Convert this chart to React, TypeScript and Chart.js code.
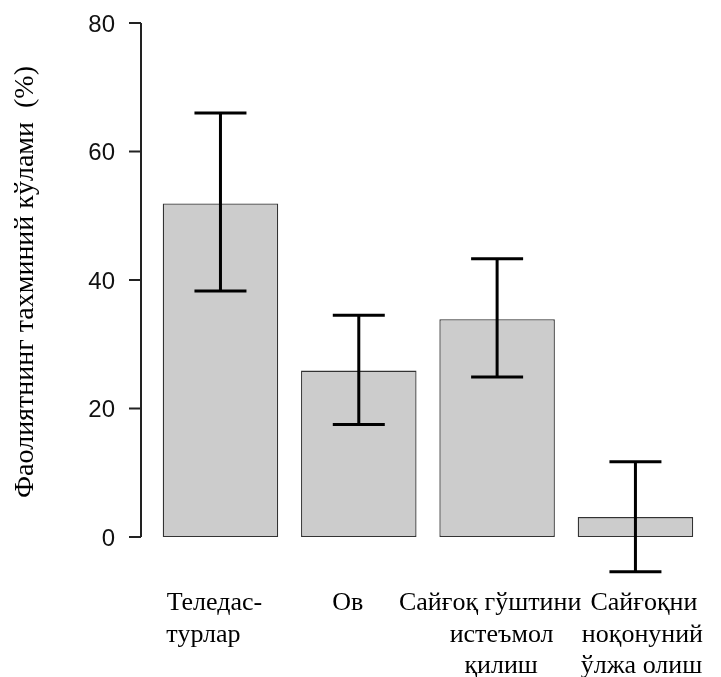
import { useEffect, useRef } from "react";
import { Chart, registerables } from "chart.js";

Chart.register(...registerables);

// ---- data ----
const categories: string[][] = [
  ["Теледас-", "турлар"],
  ["Ов"],
  ["Сайғоқ гўштини", "истеъмол", "қилиш"],
  ["Сайғоқни", "ноқонуний", "ўлжа олиш"],
];
const means = [51.9, 25.9, 33.9, 3.1];
const upper = [66.0, 34.5, 43.3, 11.7];
const lower = [38.3, 17.5, 24.9, -5.4];
const yTicks = [0, 20, 40, 60, 80];
const yTitle = "Фаолиятнинг тахминий кўлами  (%)";

// ---- layout (not data) ----
const labelLineDx: number[][] = [
  [-6, -17],
  [-11],
  [-7, 4.5, 4],
  [8.5, 7, 6],
];

const overlay = {
  id: "overlay",
  afterDatasetsDraw(chart: any) {
    const ctx = chart.ctx as CanvasRenderingContext2D;
    const y = chart.scales.y;
    const x = chart.scales.x;
    ctx.save();
    // error bars
    ctx.strokeStyle = "#000";
    ctx.lineWidth = 3;
    ctx.lineCap = "butt";
    means.forEach((_, i) => {
      const cx = x.getPixelForValue(i);
      const yu = y.getPixelForValue(upper[i]);
      const yl = y.getPixelForValue(lower[i]);
      ctx.beginPath();
      ctx.moveTo(cx, yu);
      ctx.lineTo(cx, yl);
      ctx.moveTo(cx - 26, yu);
      ctx.lineTo(cx + 26, yu);
      ctx.moveTo(cx - 26, yl);
      ctx.lineTo(cx + 26, yl);
      ctx.stroke();
    });
    // y axis
    const ax = 141;
    ctx.strokeStyle = "#222";
    ctx.lineWidth = 2;
    ctx.beginPath();
    ctx.moveTo(ax, y.getPixelForValue(yTicks[0]));
    ctx.lineTo(ax, y.getPixelForValue(yTicks[yTicks.length - 1]));
    yTicks.forEach((t) => {
      const py = y.getPixelForValue(t);
      ctx.moveTo(ax, py);
      ctx.lineTo(ax - 12, py);
    });
    ctx.stroke();
    ctx.fillStyle = "#111";
    ctx.font = "24px 'Liberation Sans', Arial, sans-serif";
    ctx.textAlign = "right";
    ctx.textBaseline = "middle";
    yTicks.forEach((t) => {
      ctx.fillText(String(t), 115, y.getPixelForValue(t) + 2);
    });
    // category labels
    ctx.fillStyle = "#000";
    ctx.font = "26px 'Liberation Serif', 'Times New Roman', serif";
    ctx.textAlign = "center";
    ctx.textBaseline = "alphabetic";
    categories.forEach((lines, i) => {
      const cx = x.getPixelForValue(i);
      lines.forEach((ln, j) => {
        ctx.fillText(ln, cx + labelLineDx[i][j], 610 + j * 31.5);
      });
    });
    // y title
    ctx.font = "28px 'Liberation Serif', 'Times New Roman', serif";
    ctx.translate(33, 282);
    ctx.rotate(-Math.PI / 2);
    ctx.textAlign = "center";
    ctx.textBaseline = "alphabetic";
    ctx.fillText(yTitle, 0, 0);
    ctx.restore();
  },
};

export default function App() {
  const ref = useRef<HTMLCanvasElement>(null);
  useEffect(() => {
    if (!ref.current) return;
    const chart = new Chart(ref.current, {
      type: "bar",
      data: {
        labels: categories.map((c) => c.join(" ")),
        datasets: [
          {
            data: means,
            backgroundColor: "rgb(204,204,204)",
            borderColor: "#333",
            borderWidth: 1.3,
            borderSkipped: false,
            categoryPercentage: 1,
            barPercentage: 0.835,
          },
        ],
      },
      options: {
        responsive: false,
        animation: false,
        events: [],
        layout: { padding: { left: 151.3, right: 16.4, top: 10.15, bottom: 62.9 } },
        plugins: { legend: { display: false }, tooltip: { enabled: false } },
        scales: {
          x: { type: "category", display: false, offset: true },
          y: { type: "linear", display: false, min: -12, max: 82 },
        },
      },
      plugins: [overlay],
    });
    return () => chart.destroy();
  }, []);
  return (
    <div style={{ position: "absolute", left: 0, top: 0, width: 721, height: 677, background: "#fff" }}>
      <canvas ref={ref} width={721} height={677} style={{ width: 721, height: 677 }} />
    </div>
  );
}
